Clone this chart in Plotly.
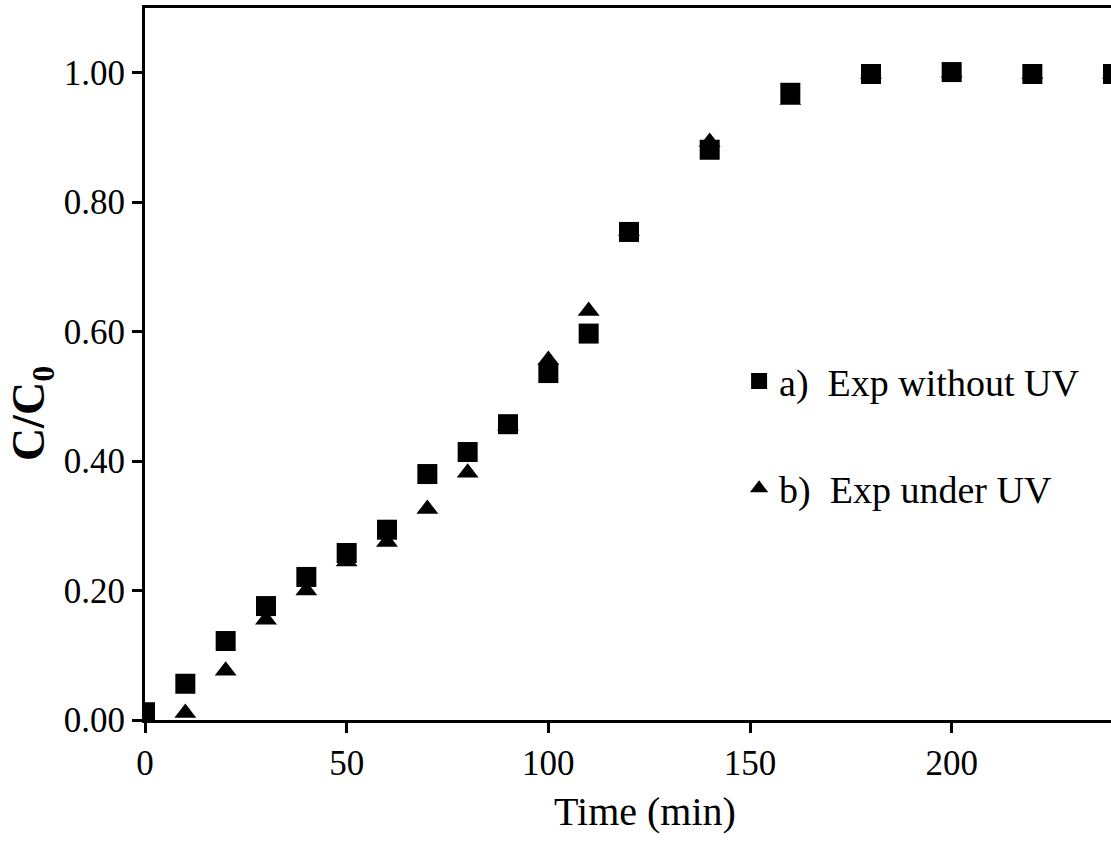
import plotly.graph_objects as go

# Data
time_a = [0, 10, 20, 30, 40, 50, 60, 70, 80, 90, 100, 110, 120, 140, 160, 180, 200, 220, 240]
conc_a = [0.012, 0.056, 0.122, 0.176, 0.221, 0.258, 0.294, 0.380, 0.414, 0.457, 0.536, 0.597,
          0.754, 0.881, 0.969, 0.998, 1.001, 0.998, 0.998]

time_b = [0, 10, 20, 30, 40, 50, 60, 70, 80, 90, 100, 110, 120, 140, 160, 180, 200, 220, 240]
conc_b = [0.000, 0.011, 0.076, 0.155, 0.200, 0.245, 0.275, 0.326, 0.382, 0.455, 0.556, 0.632,
          0.755, 0.893, 0.958, 0.998, 1.000, 0.998, 0.998]

label_a = "a)  Exp without UV"
label_b = "b)  Exp under UV"

x_ticks = [0, 50, 100, 150, 200]
y_ticks = [0.0, 0.2, 0.4, 0.6, 0.8, 1.0]
y_ticklabels = ["0.00", "0.20", "0.40", "0.60", "0.80", "1.00"]

FONT = "Liberation Serif, Times New Roman, serif"

fig = go.Figure()
fig.add_trace(go.Scatter(
    x=time_b, y=conc_b, mode="markers", name=label_b, legendgroup="b", legendrank=2,
    marker=dict(symbol="triangle-up", size=19, color="black", line=dict(width=0)),
))
fig.add_trace(go.Scatter(
    x=time_a, y=conc_a, mode="markers", name=label_a, legendgroup="a", legendrank=1,
    marker=dict(symbol="square", size=20, color="black", line=dict(width=0)),
))

fig.update_layout(
    width=1111, height=841,
    margin=dict(l=145, r=0, t=8, b=121),
    paper_bgcolor="white", plot_bgcolor="white",
    font=dict(family=FONT, color="black", size=35),
    showlegend=True,
    legend=dict(
        x=0.615, y=0.52, xanchor="left", yanchor="top",
        font=dict(family=FONT, size=38, color="black"),
        bgcolor="rgba(0,0,0,0)", borderwidth=0,
        tracegroupgap=55, itemsizing="trace",
    ),
    xaxis=dict(
        range=[0, 239.5], tickvals=x_ticks, ticks="outside", ticklen=10, tickwidth=3,
        tickcolor="black", showline=True, linewidth=3, linecolor="black", mirror=True,
        showgrid=False, zeroline=False, tickfont=dict(family=FONT, size=35),
    ),
    yaxis=dict(
        range=[0, 1.1], tickvals=y_ticks, ticktext=y_ticklabels, ticks="outside",
        ticklen=10, tickwidth=3, tickcolor="black", showline=True, linewidth=3,
        linecolor="black", mirror=False, showgrid=False, zeroline=False,
        tickfont=dict(family=FONT, size=35),
    ),
    annotations=[
        dict(text="Time (min)", xref="paper", yref="paper", x=0.518, y=-0.129,
             xanchor="center", yanchor="middle", showarrow=False,
             font=dict(family=FONT, size=40, color="black")),
        dict(text="<b>C/C<sub>0</sub></b>", xref="paper", yref="paper", x=-0.117, y=0.431,
             xanchor="center", yanchor="middle", showarrow=False, textangle=-90,
             font=dict(family=FONT, size=46, color="black")),
    ],
)

fig.write_html("out.html")
